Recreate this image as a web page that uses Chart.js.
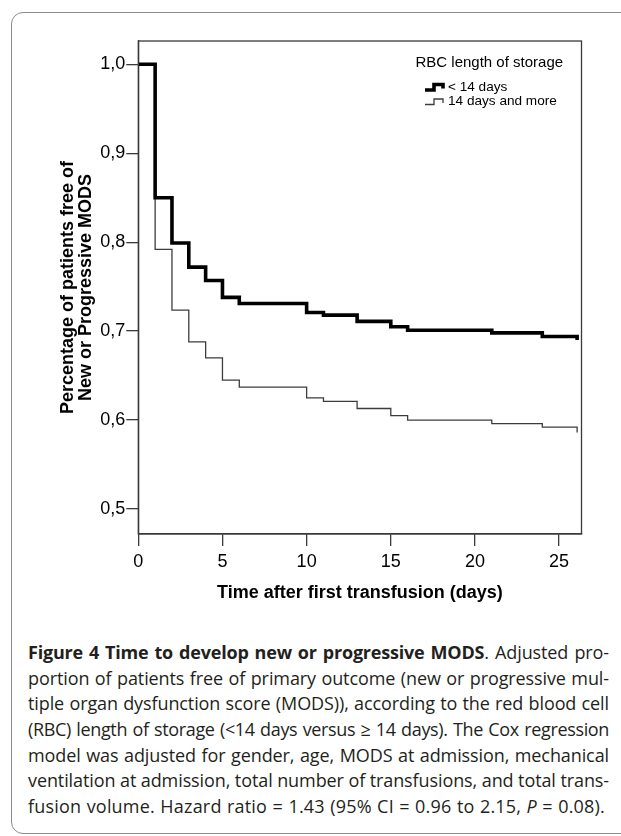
<!DOCTYPE html>
<html>
<head>
<meta charset="utf-8">
<script src="https://cdn.jsdelivr.net/npm/chart.js@4/dist/chart.umd.min.js"></script>
<style>
  html, body { margin: 0; padding: 0; background: #fff; }
  body { width: 621px; height: 836px; position: relative; overflow: hidden; }
  #frame {
    position: absolute; left: 11px; top: 12px; width: 660px; height: 822px;
    border: 1.5px solid #8c8c8c; border-radius: 12px; box-sizing: border-box;
  }
  #plot { position: absolute; left: 0; top: 0; width: 621px; height: 620px; }
  #caption {
    position: absolute; left: 28px; top: 640px; width: 581px;
    font-family: "Open Sans", "Noto Sans", sans-serif; font-size: 18px;
    color: #231f20; letter-spacing: -0.1px;
  }
  #caption div {
    height: 25.7px; line-height: 25.7px; white-space: nowrap;
    text-align: justify; text-align-last: justify;
  }
  #caption div.tight { letter-spacing: -0.35px; }
  #caption div.last { text-align: left; text-align-last: left; letter-spacing: 0.2px; word-spacing: 0.5px; }
  #caption b { font-weight: 700; letter-spacing: -0.2px; }
</style>
</head>
<body>
<div id="frame"></div>
<div id="plot"><canvas id="km"></canvas></div>
<div id="caption">
  <div><b>Figure 4 Time to develop new or progressive MODS</b>. Adjusted pro-</div>
  <div>portion of patients free of primary outcome (new or progressive mul-</div>
  <div>tiple organ dysfunction score (MODS)), according to the red blood cell</div>
  <div class="tight">(RBC) length of storage (&lt;14 days versus ≥ 14 days). The Cox regression</div>
  <div>model was adjusted for gender, age, MODS at admission, mechanical</div>
  <div>ventilation at admission, total number of transfusions, and total trans-</div>
  <div class="last">fusion volume. Hazard ratio = 1.43 (95% CI = 0.96 to 2.15, <i>P</i> = 0.08).</div>
</div>
<script>
// Step times (days) and adjusted survival for each storage group
const days = [0, 1, 2, 3, 4, 5, 6, 10, 11, 13, 15, 16, 21, 24, 26.07];
const freshBlood = [1.0, 0.850, 0.799, 0.772, 0.757, 0.738, 0.731, 0.721, 0.718, 0.711, 0.705, 0.701, 0.698, 0.694, 0.690];
const olderBlood = [1.0, 0.792, 0.7235, 0.688, 0.670, 0.645, 0.637, 0.625, 0.621, 0.613, 0.605, 0.600, 0.596, 0.592, 0.586];

const seriesNames = ['< 14 days', '14 days and more'];
const legendTitle = 'RBC length of storage';

const xTicks = [0, 5, 10, 15, 20, 25];
const yTicks = [0.5, 0.6, 0.7, 0.8, 0.9, 1.0];
const yTickLabels = ['0,5', '0,6', '0,7', '0,8', '0,9', '1,0'];

const FONT = '"Liberation Sans", Arial, sans-serif';
const AXIS = '#3a3a3a';

const toPoints = vals => vals.map((v, i) => ({ x: days[i], y: v }));

// Box round the plot + step legend inside the top right corner
const boxAndLegend = {
    id: 'boxAndLegend',
    afterDraw(chart) {
        const { ctx, chartArea: a } = chart;
        ctx.save();
        ctx.strokeStyle = AXIS;
        ctx.lineWidth = 1.3;
        ctx.strokeRect(a.left, a.top, a.right - a.left, a.bottom - a.top);

        ctx.fillStyle = '#000';
        ctx.font = '15px ' + FONT;
        ctx.textBaseline = 'alphabetic';
        ctx.fillText(legendTitle, 415.5, 66.5);

        const rows = [87, 101.5];
        ctx.font = '13.6px ' + FONT;
        ctx.textBaseline = 'middle';
        chart.data.datasets.forEach((ds, i) => {
            const y = rows[i];
            const x0 = 425;
            ctx.strokeStyle = ds.borderColor;
            ctx.lineWidth = ds.borderWidth;
            ctx.beginPath();
            ctx.moveTo(x0, y + 3);
            ctx.lineTo(x0 + 9, y + 3);
            ctx.lineTo(x0 + 9, y - 2.5);
            ctx.lineTo(x0 + 18, y - 2.5);
            ctx.lineTo(x0 + 18, y + 1.5);
            ctx.stroke();
            ctx.fillText(ds.label, 448, y);
        });
        ctx.restore();
    }
};

new Chart(document.getElementById('km'), {
    type: 'line',
    data: {
        datasets: [
            {
                label: seriesNames[0],
                data: toPoints(freshBlood),
                borderColor: '#000',
                borderWidth: 3.6,
                stepped: true,
                pointRadius: 0,
                fill: false
            },
            {
                label: seriesNames[1],
                data: toPoints(olderBlood),
                borderColor: '#3c3c3c',
                borderWidth: 1.3,
                stepped: true,
                pointRadius: 0,
                fill: false
            }
        ]
    },
    options: {
        responsive: true,
        maintainAspectRatio: false,
        animation: false,
        layout: { padding: { top: 41, right: 39.5, left: 0, bottom: 0 } },
        plugins: {
            legend: { display: false },
            tooltip: { enabled: false }
        },
        scales: {
            x: {
                type: 'linear',
                min: 0,
                max: 26.33,
                afterFit: s => { s.height = 86; },
                afterBuildTicks: s => { s.ticks = xTicks.map(v => ({ value: v })); },
                grid: { drawOnChartArea: false, tickLength: 12, color: AXIS, lineWidth: 1.3 },
                border: { color: AXIS, width: 1.3 },
                ticks: {
                    padding: 5,
                    color: '#000',
                    font: { family: FONT, size: 18 },
                    callback: v => String(v)
                },
                title: {
                    display: true,
                    text: 'Time after first transfusion (days)',
                    color: '#000',
                    font: { family: FONT, size: 18, weight: 'bold', lineHeight: 1.15 },
                    padding: { top: 0, bottom: 16.5 }
                }
            },
            y: {
                min: 0.4719,
                max: 1.0262,
                afterFit: s => { s.width = 138.3; },
                afterBuildTicks: s => { s.ticks = yTicks.map(v => ({ value: v })); },
                grid: { drawOnChartArea: false, tickLength: 12, color: AXIS, lineWidth: 1.3 },
                border: { color: AXIS, width: 1.3 },
                ticks: {
                    padding: 1,
                    color: '#000',
                    font: { family: FONT, size: 18 },
                    callback: (v, i) => yTickLabels[i]
                },
                title: {
                    display: true,
                    text: ['Percentage of patients free of', 'New or Progressive MODS'],
                    color: '#000',
                    font: { family: FONT, size: 18, weight: 'bold', lineHeight: 1.0 },
                    padding: { top: 59, bottom: 0 }
                }
            }
        }
    },
    plugins: [boxAndLegend]
});
</script>
</body>
</html>
